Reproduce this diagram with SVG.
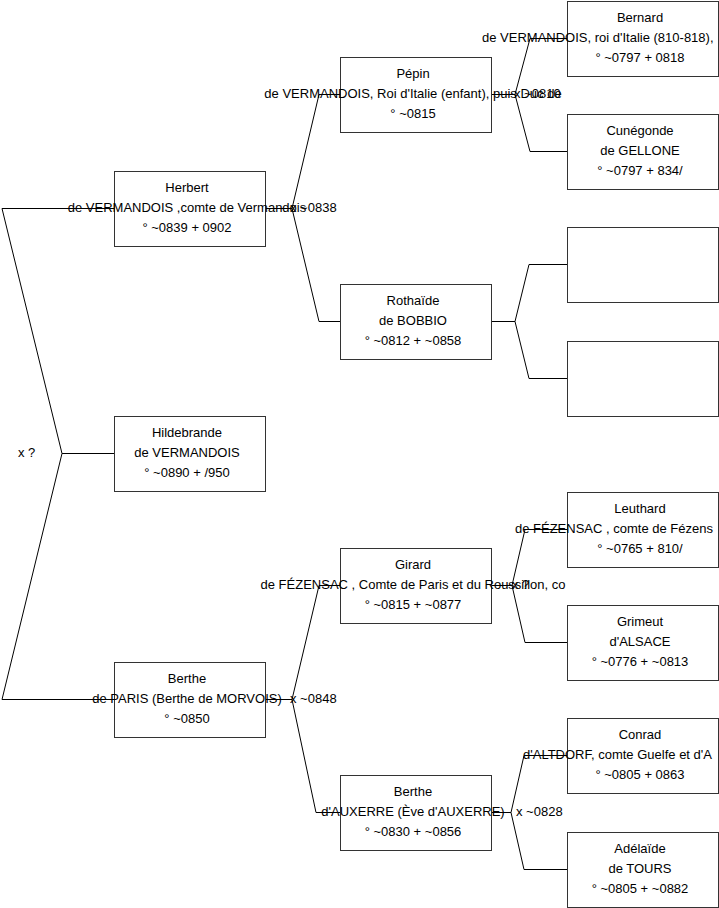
<svg xmlns="http://www.w3.org/2000/svg" width="719" height="908" viewBox="0 0 719 908">
<style>
.box{fill:#fff;stroke:#333;stroke-width:1}
.ln{fill:none;stroke:#000;stroke-width:1}
text{font-family:"Liberation Sans",Arial,sans-serif;font-size:13px;fill:#000}
.c{text-anchor:middle}
</style>
<rect width="719" height="908" fill="#fff"/>
<g id="connectors">
<polyline class="ln" points="114,208.5 2,208.5 62,453.5 2,699.5 114,699.5"/>
<polyline class="ln" points="62,453.5 114,453.5"/>
<polyline class="ln" points="265,208.5 292,208.5 319,94.5 340,94.5"/>
<polyline class="ln" points="292,208.5 319,321.5 340,321.5"/>
<polyline class="ln" points="491,94.5 515,94.5 530,38.5 567,38.5"/>
<polyline class="ln" points="515,94.5 530,151.5 567,151.5"/>
<polyline class="ln" points="491,321.5 515,321.5 529,264.5 567,264.5"/>
<polyline class="ln" points="515,321.5 529,378.5 567,378.5"/>
<polyline class="ln" points="265,699.5 292,699.5 319,585.5 340,585.5"/>
<polyline class="ln" points="292,699.5 316,812.5 340,812.5"/>
<polyline class="ln" points="491,585.5 512,585.5 525,529.5 567,529.5"/>
<polyline class="ln" points="512,585.5 525,642.5 567,642.5"/>
<polyline class="ln" points="491,812.5 511,812.5 524,755.5 567,755.5"/>
<polyline class="ln" points="511,812.5 524,869.5 567,869.5"/>
</g>
<g id="herbert">
<rect class="box" x="114.5" y="171.5" width="151" height="75"/>
<text class="c" x="187" y="192">Herbert</text>
<text class="c" x="187" y="212">de VERMANDOIS ,comte de Vermandois</text>
<text class="c" x="187" y="232">° ~0839 + 0902</text>
</g>
<g id="hildebrande">
<rect class="box" x="114.5" y="416.5" width="151" height="75"/>
<text class="c" x="187" y="437">Hildebrande</text>
<text class="c" x="187" y="457">de VERMANDOIS</text>
<text class="c" x="187" y="477">° ~0890 + /950</text>
</g>
<g id="berthe">
<rect class="box" x="114.5" y="662.5" width="151" height="75"/>
<text class="c" x="187" y="683">Berthe</text>
<text class="c" x="187" y="703">de PARIS (Berthe de MORVOIS)</text>
<text class="c" x="187" y="723">° ~0850</text>
</g>
<g id="pepin">
<rect class="box" x="340.5" y="57.5" width="151" height="75"/>
<text class="c" x="413" y="78">Pépin</text>
<text class="c" x="413" y="98">de VERMANDOIS, Roi d'Italie (enfant), puis Duc de</text>
<text class="c" x="413" y="118">° ~0815</text>
</g>
<g id="rothaide">
<rect class="box" x="340.5" y="284.5" width="151" height="75"/>
<text class="c" x="413" y="305">Rothaïde</text>
<text class="c" x="413" y="325">de BOBBIO</text>
<text class="c" x="413" y="345">° ~0812 + ~0858</text>
</g>
<g id="girard">
<rect class="box" x="340.5" y="548.5" width="151" height="75"/>
<text class="c" x="413" y="569">Girard</text>
<text class="c" x="413" y="589">de FÉZENSAC , Comte de Paris et du Roussillon, co</text>
<text class="c" x="413" y="609">° ~0815 + ~0877</text>
</g>
<g id="berthe2">
<rect class="box" x="340.5" y="775.5" width="151" height="75"/>
<text class="c" x="413" y="796">Berthe</text>
<text class="c" x="413" y="816">d'AUXERRE (Ève d'AUXERRE)</text>
<text class="c" x="413" y="836">° ~0830 + ~0856</text>
</g>
<g id="bernard">
<rect class="box" x="567.5" y="1.5" width="151" height="75"/>
<text class="c" x="640" y="22">Bernard</text>
<text x="482" y="42">de VERMANDOIS, roi d'Italie (810-818),</text>
<text class="c" x="640" y="62">° ~0797 + 0818</text>
</g>
<g id="cunegonde">
<rect class="box" x="567.5" y="114.5" width="151" height="75"/>
<text class="c" x="640" y="135">Cunégonde</text>
<text class="c" x="640" y="155">de GELLONE</text>
<text class="c" x="640" y="175">° ~0797 + 834/</text>
</g>
<g id="empty1">
<rect class="box" x="567.5" y="227.5" width="151" height="75"/>
</g>
<g id="empty2">
<rect class="box" x="567.5" y="341.5" width="151" height="75"/>
</g>
<g id="leuthard">
<rect class="box" x="567.5" y="492.5" width="151" height="75"/>
<text class="c" x="640" y="513">Leuthard</text>
<text x="515" y="533">de FÉZENSAC , comte de Fézens</text>
<text class="c" x="640" y="553">° ~0765 + 810/</text>
</g>
<g id="grimeut">
<rect class="box" x="567.5" y="605.5" width="151" height="75"/>
<text class="c" x="640" y="626">Grimeut</text>
<text class="c" x="640" y="646">d'ALSACE</text>
<text class="c" x="640" y="666">° ~0776 + ~0813</text>
</g>
<g id="conrad">
<rect class="box" x="567.5" y="718.5" width="151" height="75"/>
<text class="c" x="640" y="739">Conrad</text>
<text x="523" y="759">d'ALTDORF, comte Guelfe et d'A</text>
<text class="c" x="640" y="779">° ~0805 + 0863</text>
</g>
<g id="adelaide">
<rect class="box" x="567.5" y="832.5" width="151" height="75"/>
<text class="c" x="640" y="853">Adélaïde</text>
<text class="c" x="640" y="873">de TOURS</text>
<text class="c" x="640" y="893">° ~0805 + ~0882</text>
</g>
<g id="labels">
<text x="18" y="457">x ?</text>
<text x="290" y="212">x ~0838</text>
<text x="290" y="703">x ~0848</text>
<text x="514" y="98">x ~0810</text>
<text x="512" y="589">x ?</text>
<text x="516" y="816">x ~0828</text>
</g>
</svg>
